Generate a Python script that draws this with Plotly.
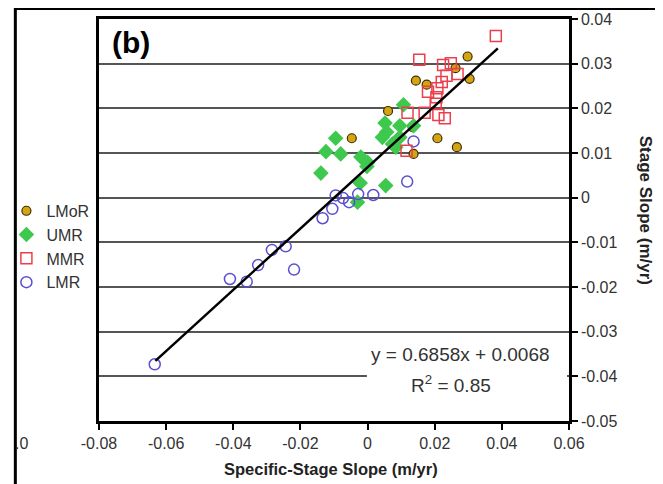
import plotly.graph_objects as go

# ---- data ----
lmor_x = [0.0298, 0.0304, 0.0144, 0.0176, 0.0262, 0.0061, -0.0047, 0.0208, 0.0266, 0.0137, 0.0134]
lmor_y = [0.0316, 0.0266, 0.0262, 0.0253, 0.0290, 0.0194, 0.0133, 0.0133, 0.0113, 0.0098, 0.0158]

umr_x = [0.0107, 0.0052, 0.0096, 0.0137, 0.0057, 0.0044, 0.0096, 0.0074, 0.0084,
         -0.0095, -0.0124, -0.0080, -0.0020, 0.0000, -0.0002, -0.0139, -0.0022, 0.0054, -0.0030]
umr_y = [0.0208, 0.0167, 0.0161, 0.0161, 0.0147, 0.0135, 0.0135, 0.0120, 0.0113,
         0.0133, 0.0103, 0.0098, 0.0091, 0.0079, 0.0070, 0.0055, 0.0033, 0.0027, -0.0010]

mmr_x = [0.0382, 0.0154, 0.0225, 0.0248, 0.0268, 0.0235, 0.0221, 0.0208, 0.0180,
         0.0205, 0.0203, 0.0119, 0.0170, 0.0211, 0.0230, 0.0116]
mmr_y = [0.0362, 0.0309, 0.0297, 0.0301, 0.0277, 0.0273, 0.0259, 0.0245, 0.0237,
         0.0225, 0.0210, 0.0190, 0.0190, 0.0185, 0.0178, 0.0105]

lmr_x = [0.0137, 0.0118, -0.0095, -0.0073, -0.0055, -0.0028, 0.0017, -0.0105, -0.0134,
         -0.0285, -0.0244, -0.0326, -0.0219, -0.0410, -0.0360, -0.0634]
lmr_y = [0.0126, 0.0036, 0.0005, -0.0001, -0.0010, 0.0008, 0.0006, -0.0025, -0.0046,
         -0.0117, -0.0109, -0.0151, -0.0161, -0.0182, -0.0188, -0.0373]

slope = 0.6858
intercept = 0.0068
trend_x = [-0.0632, 0.0388]
trend_y = [slope * v + intercept for v in trend_x]

x_ticks = [-0.08, -0.06, -0.04, -0.02, 0, 0.02, 0.04, 0.06]
x_ticktext = ["-0.08", "-0.06", "-0.04", "-0.02", "0", "0.02", "0.04", "0.06"]
y_ticks = [0.04, 0.03, 0.02, 0.01, 0, -0.01, -0.02, -0.03, -0.04, -0.05]
y_ticktext = ["0.04", "0.03", "0.02", "0.01", "0", "-0.01", "-0.02", "-0.03", "-0.04", "-0.05"]

FONT = "Arial, Liberation Sans, sans-serif"

fig = go.Figure()
fig.add_trace(go.Scatter(x=lmor_x, y=lmor_y, mode="markers", name="LMoR", legendrank=1,
                         marker=dict(symbol="circle", size=9, color="#d4a414",
                                     line=dict(color="#3a3000", width=1.2))))
fig.add_trace(go.Scatter(x=umr_x, y=umr_y, mode="markers", name="UMR", legendrank=2,
                         marker=dict(symbol="diamond", size=12, color="#3ec84e",
                                     line=dict(color="#3ec84e", width=0))))
fig.add_trace(go.Scatter(x=lmr_x, y=lmr_y, mode="markers", name="LMR", legendrank=4,
                         marker=dict(symbol="circle-open", size=11, color="#5a4fd0",
                                     line=dict(width=1.5))))
fig.add_trace(go.Scatter(x=mmr_x, y=mmr_y, mode="markers", name="MMR", legendrank=3,
                         marker=dict(symbol="square-open", size=11, color="#ec3f4c",
                                     line=dict(width=1.5))))
fig.add_trace(go.Scatter(x=trend_x, y=trend_y, mode="lines", showlegend=False,
                         line=dict(color="black", width=2.5)))

# the page has an 8px body margin, so the figure is 655x476 and placed at (8, 8)
fig.update_layout(
    width=655, height=476,
    margin=dict(l=90.6, r=94.3, t=11, b=63.3, autoexpand=False),
    paper_bgcolor="white", plot_bgcolor="white",
    font=dict(family=FONT, size=16, color="#333"),
    showlegend=True,
    legend=dict(x=-0.197, y=0.565, xanchor="left", yanchor="top",
                font=dict(size=16, color="#333"), bgcolor="rgba(0,0,0,0)",
                tracegroupgap=0, itemwidth=30),
    xaxis=dict(range=[-0.08, 0.06], tickvals=x_ticks, ticktext=x_ticktext,
               showgrid=False, zeroline=False, showline=True, mirror=True,
               linecolor="black", linewidth=2.5, ticks="outside", ticklen=6,
               tickcolor="black", tickwidth=1.5, tickfont=dict(size=16, color="#333")),
    yaxis=dict(range=[-0.05, 0.04], tickvals=y_ticks, ticktext=y_ticktext, side="right",
               showgrid=True, gridcolor="#555", gridwidth=2, zeroline=False,
               showline=True, mirror=True, linecolor="black", linewidth=2.5,
               ticks="outside", ticklen=6, tickcolor="black", tickwidth=1.5,
               tickfont=dict(size=16, color="#333")),
)

# white box that hides the gridlines behind the equation
fig.add_shape(type="rect", xref="x", yref="y", x0=-0.0002, x1=0.0594, y0=-0.0465, y1=-0.0322,
              fillcolor="white", line=dict(width=0), layer="above")
# outer frame of the figure
fig.add_shape(type="rect", xref="paper", yref="paper", x0=-0.178, x1=1.187, y0=-0.25, y1=1.026,
              line=dict(color="black", width=3), fillcolor="rgba(0,0,0,0)")

fig.add_annotation(x=0.0278, y=-0.0350, xref="x", yref="y", text="y = 0.6858x + 0.0068",
                   showarrow=False, font=dict(size=19, color="#333"))
fig.add_annotation(x=0.0248, y=-0.0418, xref="x", yref="y", text="R<sup>2</sup> = 0.85",
                   showarrow=False, font=dict(size=19, color="#333"))
fig.add_annotation(x=0.069, y=0.942, xref="paper", yref="paper", text="<b>(b)</b>",
                   xanchor="center", yanchor="middle",
                   showarrow=False, font=dict(size=30, color="black"))
fig.add_annotation(x=0.493, y=-0.12, xref="paper", yref="paper",
                   text="<b>Specific-Stage Slope (m/yr)</b>", showarrow=False,
                   xanchor="center", yanchor="middle",
                   font=dict(size=16.5, color="#222"))
fig.add_annotation(x=1.1626, y=0.5245, xref="paper", yref="paper", textangle=90,
                   text="<b>Stage Slope (m/yr)</b>", showarrow=False,
                   xanchor="center", yanchor="middle",
                   font=dict(size=17, color="#222"))
fig.add_annotation(x=-0.165, y=-0.055, xref="paper", yref="paper", text=".0",
                   xanchor="center", yanchor="middle",
                   showarrow=False, font=dict(size=16, color="#333"))

fig.write_html("out.html")
